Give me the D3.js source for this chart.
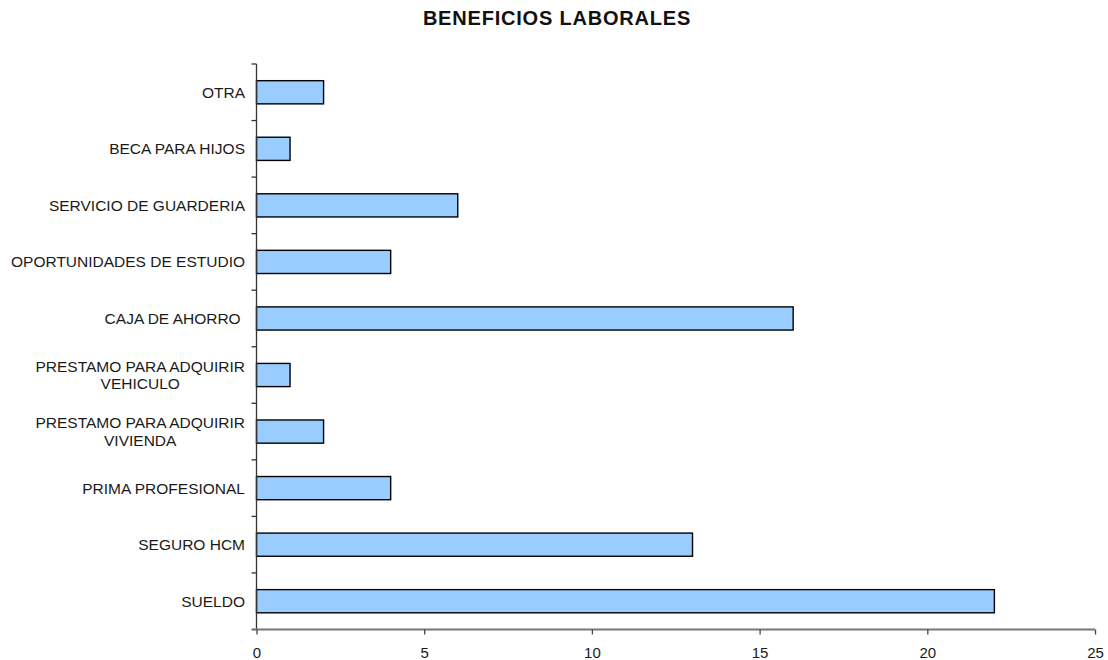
<!DOCTYPE html>
<html>
<head>
<meta charset="utf-8">
<script src="https://cdn.jsdelivr.net/npm/d3@7/dist/d3.min.js"></script>
<style>
  html, body { margin: 0; padding: 0; background: #fff; }
  svg { display: block; font-family: Arial, "Liberation Sans", sans-serif; }
  .cat-label { white-space: pre; }
</style>
</head>
<body>
<svg id="chart" width="1108" height="660"></svg>
<script>
// Benefit categories, listed bottom to top
const categories = [
  "SUELDO",
  "SEGURO HCM",
  "PRIMA PROFESIONAL",
  "PRESTAMO PARA ADQUIRIR VIVIENDA",
  "PRESTAMO PARA ADQUIRIR VEHICULO",
  "CAJA DE AHORRO",
  "OPORTUNIDADES DE ESTUDIO",
  "SERVICIO DE GUARDERIA",
  "BECA PARA HIJOS",
  "OTRA"
];
// Label lines as displayed next to the axis
const labelLines = [
  ["SUELDO"],
  ["SEGURO HCM"],
  ["PRIMA PROFESIONAL"],
  ["PRESTAMO PARA ADQUIRIR", "VIVIENDA"],
  ["PRESTAMO PARA ADQUIRIR", "VEHICULO"],
  ["CAJA DE AHORRO "],
  ["OPORTUNIDADES DE ESTUDIO"],
  ["SERVICIO DE GUARDERIA"],
  ["BECA PARA HIJOS"],
  ["OTRA"]
];
const values = [22, 13, 4, 2, 1, 16, 4, 6, 1, 2];
const xTicks = [0, 5, 10, 15, 20, 25];
const title = "BENEFICIOS LABORALES";

const svg = d3.select("#chart");
const plotLeft = 256.5, plotRight = 1095, plotTop = 64, plotBottom = 629.5;

const x = d3.scaleLinear().domain([0, 25]).range([plotLeft, plotRight]);
// Bottom category sits at the bottom of the axis
const y = d3.scaleBand().domain(categories).range([plotBottom, plotTop]).paddingInner(0.59).paddingOuter(0.295);
const yBand = d3.scaleBand().domain(categories).range([plotBottom, plotTop]);

// Title
svg.append("text")
  .attr("x", 557).attr("y", 25)
  .attr("text-anchor", "middle")
  .attr("font-weight", "bold")
  .attr("font-size", 20)
  .attr("letter-spacing", 0.8)
  .attr("fill", "#111")
  .text(title);

// Bars
svg.append("g").selectAll("rect")
  .data(values)
  .join("rect")
  .attr("x", x(0))
  .attr("y", (d, i) => y(categories[i]))
  .attr("width", d => x(d) - x(0))
  .attr("height", y.bandwidth())
  .attr("fill", "#99CCFF")
  .attr("stroke", "#000")
  .attr("stroke-width", 1.4);

// Y axis: tick marks between categories
const yAxisG = svg.append("g");
yAxisG.append("line")
  .attr("x1", plotLeft).attr("x2", plotLeft)
  .attr("y1", plotTop).attr("y2", plotBottom)
  .attr("stroke", "#333").attr("stroke-width", 1.3);
const boundaries = categories.map(c => yBand(c)).concat([plotBottom]);
yAxisG.selectAll("line.tick")
  .data(boundaries)
  .join("line")
  .attr("class", "tick")
  .attr("x1", plotLeft - 5).attr("x2", plotLeft)
  .attr("y1", d => d).attr("y2", d => d)
  .attr("stroke", "#333").attr("stroke-width", 1.3);

// Category labels
const labelRight = 245;
const lab = svg.append("g")
  .attr("font-size", 15.5)
  .attr("fill", "#1a1a1a");
labelLines.forEach((lines, i) => {
  const cy = yBand(categories[i]) + yBand.bandwidth() / 2;
  const lh = 17.5;
  const t = lab.append("text").attr("class", "cat-label");
  if (lines.length === 1) {
    t.attr("text-anchor", "end").attr("x", labelRight).attr("y", cy + 5.5).text(lines[0]);
  } else {
    // multi-line labels: lines centred on each other, block right-aligned
    t.attr("text-anchor", "middle");
    const spans = lines.map((ln, k) =>
      t.append("tspan")
        .attr("y", cy + 5.5 + (k - (lines.length - 1) / 2) * lh)
        .text(ln));
    const maxW = d3.max(spans, s => s.node().getComputedTextLength());
    spans.forEach(s => s.attr("x", labelRight - maxW / 2));
  }
});

// X axis
const xAxis = d3.axisBottom(x).tickValues(xTicks).tickSize(5).tickSizeOuter(0).tickFormat(d3.format("d"));
const xg = svg.append("g")
  .attr("transform", `translate(0,${plotBottom})`)
  .call(xAxis);
xg.select(".domain").attr("stroke", "#777").attr("stroke-width", 2).attr("d", `M${plotLeft - 4.5},0H${plotRight}`);
xg.selectAll(".tick line").attr("stroke", "#444").attr("stroke-width", 1.3);
xg.selectAll(".tick text")
  .attr("font-size", 15)
  .attr("font-family", "Arial, 'Liberation Sans', sans-serif")
  .attr("fill", "#1a1a1a")
  .attr("dy", 0)
  .attr("y", 28);
</script>
</body>
</html>
